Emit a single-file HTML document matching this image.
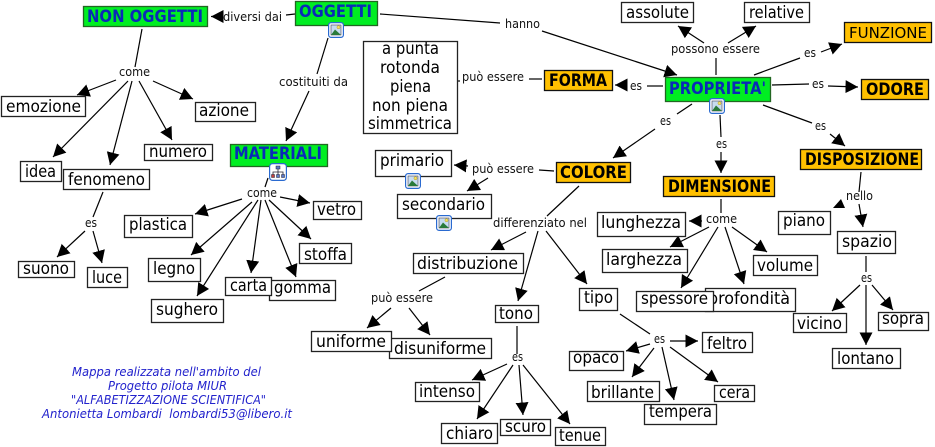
<!DOCTYPE html>
<html><head><meta charset="utf-8"><style>
html,body{margin:0;padding:0;background:#fff}
svg{display:block}
text{font-family:"DejaVu Sans","Liberation Sans",sans-serif;fill:#000}
.n{font-size:17px}
.b{font-size:16.5px;font-weight:bold}
.g{fill:#0a2ab8}
.l{font-size:12px;fill:#111}
.m{font-size:12px;font-style:italic;fill:#2222cc}
rect.w{fill:#fff;stroke:#222;stroke-width:1.3}
rect.o{fill:#ffc000;stroke:#111;stroke-width:1.3}
rect.v{fill:#00ee22;stroke:#226622;stroke-width:1.3}
line{stroke:#000;stroke-width:1.2}
line.a{marker-end:url(#ah)}
</style></head><body>
<svg width="935" height="447" viewBox="0 0 935 447" xmlns="http://www.w3.org/2000/svg">
<defs>
<marker id="ah" markerUnits="userSpaceOnUse" markerWidth="14" markerHeight="14" refX="12.5" refY="6.5" orient="auto"><path d="M0,0L12.5,6.5L0,13Z" fill="#000"/></marker>
<symbol id="pic" viewBox="0 0 16 16" overflow="visible">
<rect x=".6" y=".6" width="14.8" height="14.8" rx="2.5" fill="#fff" stroke="#2a6ad0" stroke-width="1.2"/>
<rect x="3" y="3" width="10" height="10" fill="#c8dcf0" stroke="#445" stroke-width=".6"/>
<circle cx="10.5" cy="5.2" r="1.6" fill="#f4e060" stroke="#a08a20" stroke-width=".4"/>
<path d="M3,13L7,7.5L13,13Z" fill="#2a7a3a"/>
</symbol>
<symbol id="tree" viewBox="0 0 18 18" overflow="visible">
<rect x=".6" y=".6" width="16.8" height="16.8" rx="3" fill="#fff" stroke="#2a6ad0" stroke-width="1.2"/>
<path d="M9,5V9M4,12V9H14V12M9,9V12" stroke="#223" stroke-width=".8" fill="none"/>
<rect x="7" y="3" width="4" height="3" fill="#5a78c8" stroke="#223" stroke-width=".5"/>
<rect x="2.5" y="11.5" width="3" height="3" fill="#c04040" stroke="#223" stroke-width=".5"/>
<rect x="7.5" y="11.5" width="3" height="3" fill="#5a78c8" stroke="#223" stroke-width=".5"/>
<rect x="12.5" y="11.5" width="3" height="3" fill="#5a78c8" stroke="#223" stroke-width=".5"/>
</symbol>
</defs>

<!-- connectors -->
<line x1="142" y1="29" x2="135" y2="67"/>
<line class="a" x1="116" y1="80" x2="77" y2="95"/>
<line class="a" x1="153" y1="81" x2="193" y2="99"/>
<line class="a" x1="139" y1="81" x2="172" y2="140"/>
<line class="a" x1="128" y1="81" x2="53" y2="157"/>
<line class="a" x1="132" y1="81" x2="110" y2="165"/>
<line x1="103" y1="192" x2="93" y2="217"/>
<line class="a" x1="85" y1="231" x2="57" y2="257"/>
<line class="a" x1="93" y1="231" x2="102" y2="263"/>
<line x1="295" y1="14" x2="286" y2="15"/>
<line class="a" x1="222" y1="16.5" x2="211" y2="16.5"/>
<line x1="328" y1="38" x2="317" y2="74"/>
<line class="a" x1="309" y1="91" x2="286" y2="141"/>
<line x1="380" y1="14" x2="500" y2="23"/>
<line class="a" x1="542" y1="31" x2="677" y2="75"/>
<line x1="542" y1="79" x2="529" y2="79"/>
<line x1="458" y1="81" x2="460" y2="81"/>
<line x1="663" y1="86" x2="647" y2="86"/>
<line class="a" x1="627" y1="85" x2="615" y2="85"/>
<line x1="716" y1="75" x2="716" y2="58"/>
<line class="a" x1="704" y1="43" x2="678" y2="26"/>
<line class="a" x1="728" y1="43" x2="756" y2="26"/>
<line x1="754" y1="75" x2="800" y2="58"/>
<line class="a" x1="821" y1="52" x2="842" y2="44"/>
<line x1="772" y1="85" x2="809" y2="84"/>
<line class="a" x1="828" y1="86" x2="858" y2="87"/>
<line x1="763" y1="105" x2="812" y2="123"/>
<line class="a" x1="830" y1="134" x2="845" y2="146"/>
<line x1="720" y1="115" x2="721" y2="137"/>
<line class="a" x1="721" y1="152" x2="721" y2="173"/>
<line x1="692" y1="104" x2="677" y2="114"/>
<line class="a" x1="655" y1="129" x2="613" y2="158"/>
<line x1="554" y1="171" x2="539" y2="170"/>
<line class="a" x1="468" y1="166" x2="454" y2="165"/>
<line class="a" x1="488" y1="178" x2="467" y2="191"/>
<line x1="579" y1="186" x2="547" y2="216"/>
<line class="a" x1="526" y1="232" x2="491" y2="250"/>
<line class="a" x1="538" y1="231" x2="518" y2="301"/>
<line class="a" x1="546" y1="231" x2="587" y2="284"/>
<line x1="445" y1="277" x2="419" y2="291"/>
<line class="a" x1="391" y1="308" x2="367" y2="328"/>
<line class="a" x1="409" y1="308" x2="430" y2="335"/>
<line x1="517" y1="326" x2="517" y2="354"/>
<line class="a" x1="507" y1="364" x2="472" y2="380"/>
<line class="a" x1="513" y1="365" x2="477" y2="419"/>
<line class="a" x1="519" y1="365" x2="523" y2="415"/>
<line class="a" x1="523" y1="365" x2="570" y2="424"/>
<line x1="620" y1="314" x2="650" y2="334"/>
<line class="a" x1="650" y1="344" x2="626" y2="351"/>
<line class="a" x1="654" y1="348" x2="632" y2="377"/>
<line class="a" x1="662" y1="347" x2="674" y2="400"/>
<line class="a" x1="670" y1="347" x2="718" y2="382"/>
<line class="a" x1="670" y1="341" x2="698" y2="341"/>
<line x1="721" y1="199" x2="721" y2="213"/>
<line class="a" x1="702" y1="221" x2="689" y2="221"/>
<line class="a" x1="709" y1="227" x2="670" y2="247"/>
<line class="a" x1="718" y1="227" x2="681" y2="288"/>
<line class="a" x1="725" y1="227" x2="744" y2="284"/>
<line class="a" x1="732" y1="227" x2="767" y2="252"/>
<line x1="861" y1="172" x2="859" y2="192"/>
<polygon points="833,208 845,208 841,199" fill="#000"/>
<line class="a" x1="859" y1="204" x2="863" y2="227"/>
<line x1="866" y1="256" x2="866" y2="272"/>
<line class="a" x1="860" y1="285" x2="832" y2="311"/>
<line class="a" x1="866" y1="285" x2="866" y2="345"/>
<line class="a" x1="872" y1="285" x2="893" y2="310"/>
<line x1="268" y1="178" x2="265" y2="187"/>
<line class="a" x1="242" y1="199" x2="195" y2="214"/>
<line class="a" x1="280" y1="197" x2="310" y2="203"/>
<line class="a" x1="252" y1="202" x2="191" y2="255"/>
<line class="a" x1="258" y1="200" x2="197" y2="296"/>
<line class="a" x1="261" y1="200" x2="251" y2="273"/>
<line class="a" x1="265" y1="200" x2="296" y2="277"/>
<line class="a" x1="269" y1="200" x2="311" y2="239"/>

<!-- green nodes -->
<rect class="v" x="83.5" y="6.5" width="124" height="20"/><text class="b g" x="87" y="22" textLength="116" lengthAdjust="spacingAndGlyphs">NON OGGETTI</text>
<rect class="v" x="295.5" y="1.5" width="82" height="24"/><text class="b g" x="299" y="17" textLength="73" lengthAdjust="spacingAndGlyphs">OGGETTI</text>
<rect class="v" x="230.5" y="144.5" width="97" height="22"/><text class="b g" x="234" y="159" textLength="88" lengthAdjust="spacingAndGlyphs">MATERIALI</text>
<rect class="v" x="665.5" y="77.5" width="105" height="24"/><text class="b g" x="669" y="94" textLength="97" lengthAdjust="spacingAndGlyphs">PROPRIETA'</text>

<!-- orange nodes -->
<rect class="o" x="544.5" y="70.5" width="68" height="20"/><text class="b" x="549" y="86" textLength="58" lengthAdjust="spacingAndGlyphs">FORMA</text>
<rect class="o" x="556.5" y="162.5" width="74" height="20"/><text class="b" x="560" y="178" textLength="67" lengthAdjust="spacingAndGlyphs">COLORE</text>
<rect class="o" x="844.5" y="22.5" width="87" height="20"/><text class="n" style="font-size:15.5px" x="849" y="38" textLength="78" lengthAdjust="spacingAndGlyphs">FUNZIONE</text>
<rect class="o" x="861.5" y="79.5" width="67" height="20"/><text class="b" x="866" y="95" textLength="58" lengthAdjust="spacingAndGlyphs">ODORE</text>
<rect class="o" x="800.5" y="149.5" width="121" height="20"/><text class="b" x="805" y="165" textLength="114" lengthAdjust="spacingAndGlyphs">DISPOSIZIONE</text>
<rect class="o" x="663.5" y="176.5" width="111" height="20"/><text class="b" x="668" y="192" textLength="103" lengthAdjust="spacingAndGlyphs">DIMENSIONE</text>

<!-- white nodes -->
<rect class="w" x="1.5" y="96.5" width="84" height="20"/><text class="n" x="6" y="112" textLength="75" lengthAdjust="spacingAndGlyphs">emozione</text>
<rect class="w" x="195.5" y="102.5" width="60" height="19"/><text class="n" x="199" y="116" textLength="50" lengthAdjust="spacingAndGlyphs">azione</text>
<rect class="w" x="144.5" y="144.5" width="68" height="16"/><text class="n" x="149" y="157" textLength="58" lengthAdjust="spacingAndGlyphs">numero</text>
<rect class="w" x="20.5" y="161.5" width="41" height="20"/><text class="n" x="25" y="177" textLength="31" lengthAdjust="spacingAndGlyphs">idea</text>
<rect class="w" x="63.5" y="169.5" width="86" height="20"/><text class="n" x="68" y="185" textLength="77" lengthAdjust="spacingAndGlyphs">fenomeno</text>
<rect class="w" x="124.5" y="215.5" width="68" height="22"/><text class="n" x="129" y="230" textLength="58" lengthAdjust="spacingAndGlyphs">plastica</text>
<rect class="w" x="313.5" y="201.5" width="48" height="18"/><text class="n" x="317" y="215" textLength="39" lengthAdjust="spacingAndGlyphs">vetro</text>
<rect class="w" x="18.5" y="261.5" width="56" height="16"/><text class="n" x="23" y="274" textLength="46" lengthAdjust="spacingAndGlyphs">suono</text>
<rect class="w" x="87.5" y="267.5" width="40" height="20"/><text class="n" x="92" y="283" textLength="30" lengthAdjust="spacingAndGlyphs">luce</text>
<rect class="w" x="148.5" y="258.5" width="52" height="23"/><text class="n" x="153" y="274" textLength="42" lengthAdjust="spacingAndGlyphs">legno</text>
<rect class="w" x="269.5" y="280.5" width="66" height="20"/><text class="n" x="274" y="293" textLength="57" lengthAdjust="spacingAndGlyphs">gomma</text>
<rect class="w" x="225.5" y="277.5" width="46" height="18"/><text class="n" x="230" y="291" textLength="37" lengthAdjust="spacingAndGlyphs">carta</text>
<rect class="w" x="151.5" y="299.5" width="72" height="23"/><text class="n" x="156" y="315" textLength="62" lengthAdjust="spacingAndGlyphs">sughero</text>
<rect class="w" x="299.5" y="243.5" width="52" height="20"/><text class="n" x="304" y="260" textLength="43" lengthAdjust="spacingAndGlyphs">stoffa</text>

<rect class="w" x="363.5" y="41.5" width="94" height="92"/>
<text class="n" x="382" y="54" textLength="57" lengthAdjust="spacingAndGlyphs">a punta</text>
<text class="n" x="380" y="73" textLength="60" lengthAdjust="spacingAndGlyphs">rotonda</text>
<text class="n" x="390" y="92" textLength="41" lengthAdjust="spacingAndGlyphs">piena</text>
<text class="n" x="372" y="111" textLength="76" lengthAdjust="spacingAndGlyphs">non piena</text>
<text class="n" x="368" y="129" textLength="84" lengthAdjust="spacingAndGlyphs">simmetrica</text>

<rect class="w" x="375.5" y="150.5" width="76" height="26"/><text class="n" x="380" y="166" textLength="64" lengthAdjust="spacingAndGlyphs">primario</text>
<rect class="w" x="397.5" y="194.5" width="94" height="24"/><text class="n" x="402" y="210" textLength="83" lengthAdjust="spacingAndGlyphs">secondario</text>
<rect class="w" x="621.5" y="2.5" width="72" height="20"/><text class="n" x="626" y="18" textLength="63" lengthAdjust="spacingAndGlyphs">assolute</text>
<rect class="w" x="744.5" y="2.5" width="65" height="20"/><text class="n" x="749" y="18" textLength="55" lengthAdjust="spacingAndGlyphs">relative</text>
<rect class="w" x="778.5" y="211.5" width="52" height="23"/><text class="n" x="783" y="226" textLength="42" lengthAdjust="spacingAndGlyphs">piano</text>
<rect class="w" x="597.5" y="212.5" width="88" height="24"/><text class="n" x="601" y="228" textLength="80" lengthAdjust="spacingAndGlyphs">lunghezza</text>
<rect class="w" x="602.5" y="249.5" width="85" height="23"/><text class="n" x="606" y="265" textLength="76" lengthAdjust="spacingAndGlyphs">larghezza</text>
<rect class="w" x="753.5" y="255.5" width="64" height="20"/><text class="n" x="757" y="271" textLength="56" lengthAdjust="spacingAndGlyphs">volume</text>
<rect class="w" x="705.5" y="288.5" width="90" height="23"/><text class="n" x="708" y="304" textLength="82" lengthAdjust="spacingAndGlyphs">profondità</text>
<rect class="w" x="636.5" y="291.5" width="77" height="20"/><text class="n" x="641" y="304" textLength="67" lengthAdjust="spacingAndGlyphs">spessore</text>
<rect class="w" x="837.5" y="231.5" width="58" height="22"/><text class="n" x="842" y="247" textLength="50" lengthAdjust="spacingAndGlyphs">spazio</text>
<rect class="w" x="793.5" y="313.5" width="53" height="19"/><text class="n" x="797" y="329" textLength="45" lengthAdjust="spacingAndGlyphs">vicino</text>
<rect class="w" x="878.5" y="312.5" width="50" height="18"/><text class="n" x="882" y="324" textLength="42" lengthAdjust="spacingAndGlyphs">sopra</text>
<rect class="w" x="832.5" y="348.5" width="68" height="20"/><text class="n" x="837" y="364" textLength="57" lengthAdjust="spacingAndGlyphs">lontano</text>
<rect class="w" x="702.5" y="332.5" width="50" height="20"/><text class="n" x="707" y="349" textLength="40" lengthAdjust="spacingAndGlyphs">feltro</text>
<rect class="w" x="714.5" y="385.5" width="40" height="16"/><text class="n" x="719" y="398" textLength="31" lengthAdjust="spacingAndGlyphs">cera</text>
<rect class="w" x="587.5" y="381.5" width="72" height="20"/><text class="n" x="591" y="398" textLength="63" lengthAdjust="spacingAndGlyphs">brillante</text>
<rect class="w" x="644.5" y="404.5" width="72" height="20"/><text class="n" x="649" y="417" textLength="63" lengthAdjust="spacingAndGlyphs">tempera</text>
<rect class="w" x="569.5" y="351.5" width="54" height="19"/><text class="n" x="573" y="363" textLength="46" lengthAdjust="spacingAndGlyphs">opaco</text>
<rect class="w" x="579.5" y="288.5" width="38" height="22"/><text class="n" x="584" y="303" textLength="29" lengthAdjust="spacingAndGlyphs">tipo</text>
<rect class="w" x="495.5" y="305.5" width="43" height="17"/><text class="n" x="499" y="319" textLength="34" lengthAdjust="spacingAndGlyphs">tono</text>
<rect class="w" x="413.5" y="253.5" width="110" height="20"/><text class="n" x="417" y="269" textLength="101" lengthAdjust="spacingAndGlyphs">distribuzione</text>
<rect class="w" x="389.5" y="338.5" width="102" height="20"/><text class="n" x="394" y="354" textLength="92" lengthAdjust="spacingAndGlyphs">disuniforme</text>
<rect class="w" x="311.5" y="331.5" width="80" height="20"/><text class="n" x="316" y="347" textLength="70" lengthAdjust="spacingAndGlyphs">uniforme</text>
<rect class="w" x="415.5" y="382.5" width="64" height="19"/><text class="n" x="419" y="397" textLength="56" lengthAdjust="spacingAndGlyphs">intenso</text>
<rect class="w" x="441.5" y="423.5" width="56" height="20"/><text class="n" x="446" y="439" textLength="47" lengthAdjust="spacingAndGlyphs">chiaro</text>
<rect class="w" x="500.5" y="419.5" width="50" height="16"/><text class="n" x="505" y="432" textLength="41" lengthAdjust="spacingAndGlyphs">scuro</text>
<rect class="w" x="555.5" y="427.5" width="50" height="18"/><text class="n" x="559" y="441" textLength="42" lengthAdjust="spacingAndGlyphs">tenue</text>

<!-- icons -->
<use href="#pic" x="328" y="22" width="16" height="16"/>
<use href="#tree" x="269" y="163" width="18" height="18"/>
<use href="#pic" x="405" y="173" width="16" height="16"/>
<use href="#pic" x="436" y="215" width="16" height="16"/>
<use href="#pic" x="709" y="98" width="16" height="16"/>

<!-- link labels -->
<text class="l" x="223" y="21" textLength="59" lengthAdjust="spacingAndGlyphs">diversi dai</text>
<text class="l" x="119" y="76" textLength="31" lengthAdjust="spacingAndGlyphs">come</text>
<text class="l" x="279" y="86" textLength="69" lengthAdjust="spacingAndGlyphs">costituiti da</text>
<text class="l" x="505" y="28" textLength="35" lengthAdjust="spacingAndGlyphs">hanno</text>
<text class="l" x="462" y="81" textLength="62" lengthAdjust="spacingAndGlyphs">può essere</text>
<text class="l" x="630" y="90" textLength="12" lengthAdjust="spacingAndGlyphs">es</text>
<text class="l" x="671" y="53" textLength="89" lengthAdjust="spacingAndGlyphs">possono essere</text>
<text class="l" x="804" y="57" textLength="12" lengthAdjust="spacingAndGlyphs">es</text>
<text class="l" x="812" y="88" textLength="12" lengthAdjust="spacingAndGlyphs">es</text>
<text class="l" x="660" y="125" textLength="11" lengthAdjust="spacingAndGlyphs">es</text>
<text class="l" x="716" y="148" textLength="11" lengthAdjust="spacingAndGlyphs">es</text>
<text class="l" x="815" y="130" textLength="11" lengthAdjust="spacingAndGlyphs">es</text>
<text class="l" x="846" y="200" textLength="27" lengthAdjust="spacingAndGlyphs">nello</text>
<text class="l" x="706" y="223" textLength="31" lengthAdjust="spacingAndGlyphs">come</text>
<text class="l" x="472" y="173" textLength="62" lengthAdjust="spacingAndGlyphs">può essere</text>
<text class="l" x="493" y="227" textLength="94" lengthAdjust="spacingAndGlyphs">differenziato nel</text>
<text class="l" x="247" y="197" textLength="30" lengthAdjust="spacingAndGlyphs">come</text>
<text class="l" x="85" y="227" textLength="12" lengthAdjust="spacingAndGlyphs">es</text>
<text class="l" x="371" y="302" textLength="62" lengthAdjust="spacingAndGlyphs">può essere</text>
<text class="l" x="512" y="361" textLength="11" lengthAdjust="spacingAndGlyphs">es</text>
<text class="l" x="654" y="343" textLength="11" lengthAdjust="spacingAndGlyphs">es</text>
<text class="l" x="861" y="282" textLength="11" lengthAdjust="spacingAndGlyphs">es</text>

<!-- credits -->
<text class="m" x="72" y="376" textLength="189" lengthAdjust="spacingAndGlyphs">Mappa realizzata nell'ambito del</text>
<text class="m" x="108" y="390" textLength="119" lengthAdjust="spacingAndGlyphs">Progetto pilota MIUR</text>
<text class="m" x="71" y="404" textLength="195" lengthAdjust="spacingAndGlyphs">"ALFABETIZZAZIONE SCIENTIFICA"</text>
<text class="m" x="42" y="418" textLength="250" lengthAdjust="spacingAndGlyphs" xml:space="preserve">Antonietta Lombardi  lombardi53@libero.it</text>
</svg>
</body></html>
